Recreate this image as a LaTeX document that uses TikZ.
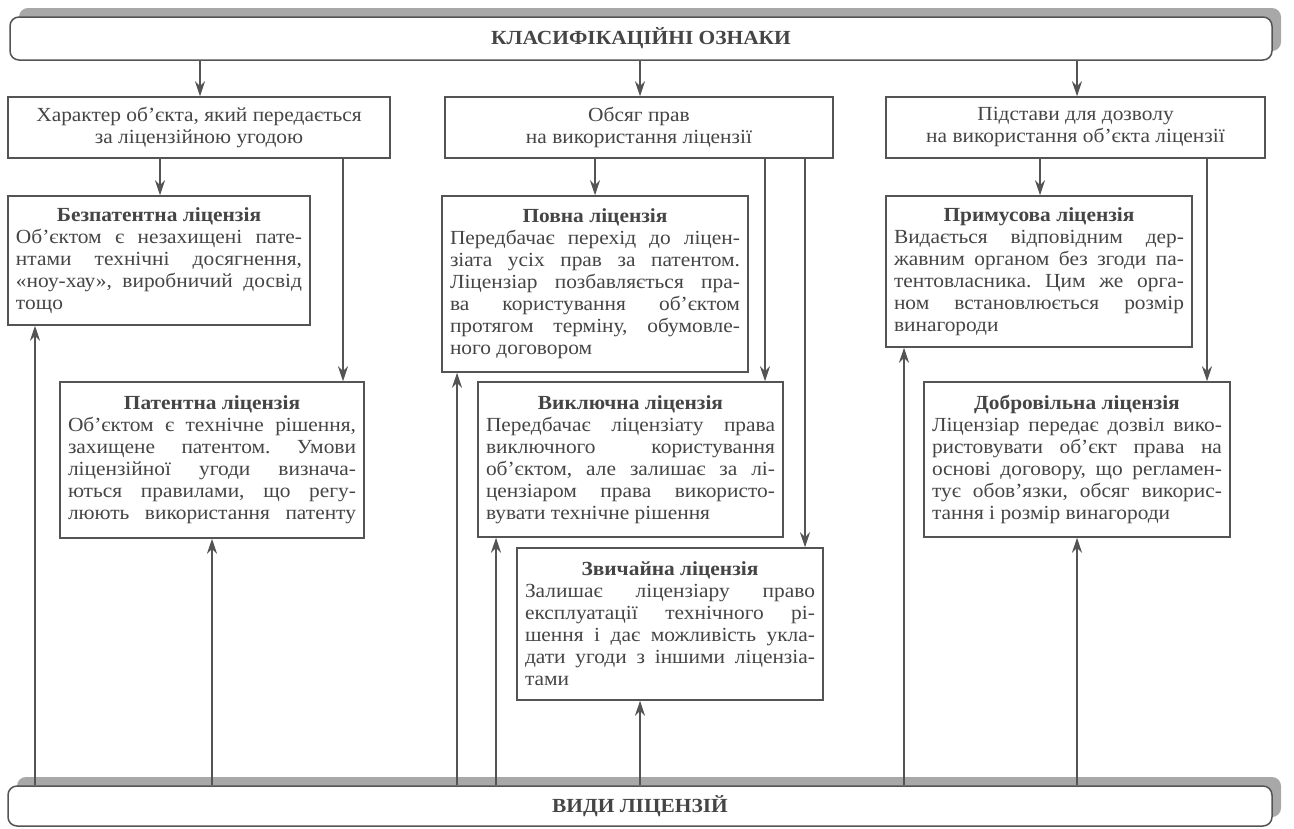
\documentclass[tikz,border=0pt]{standalone}
\usepackage{fontspec}
\setmainfont[FakeStretch=1.07]{Liberation Serif}
\usetikzlibrary{arrows.meta,shadows}
\definecolor{ink}{gray}{0.27}
\definecolor{rule}{gray}{0.33}
\definecolor{shade}{gray}{0.66}
\frenchspacing
% one justified line, a last (ragged) line and a centred bold title line
\newcommand\jline[1]{\hbox to\hsize{\spaceskip=.25em plus 3em minus .06em\relax#1}}
\newcommand\lastline[1]{\hbox to\hsize{#1\hfil}}
\newcommand\ttline[1]{\hbox to\hsize{\hfil\bfseries#1\hfil}}
\begin{document}
\begin{tikzpicture}[x=1pt,y=-1pt,
  every node/.style={font=\fontsize{20}{22}\selectfont, text=ink},
  frame/.style={draw=rule, line width=1.5pt, rectangle, inner ysep=0pt, inner xsep=8pt},
  bar/.style={frame, rounded corners=9pt, fill=white,
    drop shadow={shadow xshift=9pt, shadow yshift=9pt, fill=shade, opacity=1}},
  arr/.style={draw=rule, line width=1.3pt, -{Stealth[length=15pt,width=10pt,inset=5pt]}}]

\fill[white] (0,0) rectangle (1294,828);

% top and bottom bars
\node[bar, minimum width=1262pt, minimum height=43pt] (cls) at (641,38.5)
  {\bfseries КЛАСИФІКАЦІЙНІ ОЗНАКИ};
\node[bar, minimum width=1264pt, minimum height=40pt] (kinds) at (640,806)
  {\bfseries ВИДИ ЛІЦЕНЗІЙ};

% classification features
\node[frame, minimum width=382pt, minimum height=61pt, align=center] (h1) at (199,127.5)
  {Характер об’єкта, який передається\\за ліцензійною угодою};
\node[frame, minimum width=388pt, minimum height=61pt, align=center] (h2) at (639,127.5)
  {Обсяг прав\\на використання ліцензії};
\node[frame, minimum width=379pt, minimum height=61pt, align=center] (h3) at (1075.5,127.5)
  {Підстави для дозволу\\на використання об’єкта ліцензії};

% kinds of licences
\node[frame, minimum height=129pt] (bez) at (159,260.5) {\parbox{286pt}{%
  \ttline{Безпатентна ліцензія}
  \jline{Об’єктом є незахищені пате-}
  \jline{нтами технічні досягнення,}
  \jline{«ноу-хау», виробничий досвід}
  \lastline{тощо}}};
\node[frame, minimum height=156pt] (pat) at (212,460) {\parbox{288pt}{%
  \ttline{Патентна ліцензія}
  \jline{Об’єктом є технічне рішення,}
  \jline{захищене патентом. Умови}
  \jline{ліцензійної угоди визнача-}
  \jline{ються правилами, що регу-}
  \jline{люють використання патенту}}};
\node[frame, minimum height=176pt] (pov) at (595,284) {\parbox{290pt}{%
  \ttline{Повна ліцензія}
  \jline{Передбачає перехід до ліцен-}
  \jline{зіата усіх прав за патентом.}
  \jline{Ліцензіар позбавляється пра-}
  \jline{ва користування об’єктом}
  \jline{протягом терміну, обумовле-}
  \lastline{ного договором}}};
\node[frame, minimum height=155pt] (vyk) at (630.5,459.5) {\parbox{289pt}{%
  \ttline{Виключна ліцензія}
  \jline{Передбачає ліцензіату права}
  \jline{виключного користування}
  \jline{об’єктом, але залишає за лі-}
  \jline{цензіаром права використо-}
  \lastline{вувати технічне рішення}}};
\node[frame, minimum height=152pt] (zvy) at (670,624) {\parbox{290pt}{%
  \ttline{Звичайна ліцензія}
  \jline{Залишає ліцензіару право}
  \jline{експлуатації технічного рі-}
  \jline{шення і дає можливість укла-}
  \jline{дати угоди з іншими ліцензіа-}
  \lastline{тами}}};
\node[frame, minimum height=151pt] (pry) at (1039,271.5) {\parbox{290pt}{%
  \ttline{Примусова ліцензія}
  \jline{Видається відповідним дер-}
  \jline{жавним органом без згоди па-}
  \jline{тентовласника. Цим же орга-}
  \jline{ном встановлюється розмір}
  \lastline{винагороди}}};
\node[frame, minimum height=155pt] (dob) at (1077,459.5) {\parbox{290pt}{%
  \ttline{Добровільна ліцензія}
  \jline{Ліцензіар передає дозвіл вико-}
  \jline{ристовувати об’єкт права на}
  \jline{основі договору, що регламен-}
  \jline{тує обов’язки, обсяг викорис-}
  \lastline{тання і розмір винагороди}}};

% from the classification bar to each feature
\draw[arr] (200,0 |- cls.south) -- (200,0 |- h1.north);
\draw[arr] (640,0 |- cls.south) -- (640,0 |- h2.north);
\draw[arr] (1077,0 |- cls.south) -- (1077,0 |- h3.north);

% from each feature to its kinds
\draw[arr] (160,0 |- h1.south) -- (160,0 |- bez.north);
\draw[arr] (343,0 |- h1.south) -- (343,0 |- pat.north);
\draw[arr] (595,0 |- h2.south) -- (595,0 |- pov.north);
\draw[arr] (765,0 |- h2.south) -- (765,0 |- vyk.north);
\draw[arr] (805,0 |- h2.south) -- (805,0 |- zvy.north);
\draw[arr] (1040,0 |- h3.south) -- (1040,0 |- pry.north);
\draw[arr] (1207,0 |- h3.south) -- (1207,0 |- dob.north);

% from the bar of kinds up to each kind
\draw[arr] (35,0 |- kinds.north) -- (35,0 |- bez.south);
\draw[arr] (212,0 |- kinds.north) -- (212,0 |- pat.south);
\draw[arr] (457,0 |- kinds.north) -- (457,0 |- pov.south);
\draw[arr] (496,0 |- kinds.north) -- (496,0 |- vyk.south);
\draw[arr] (640,0 |- kinds.north) -- (640,0 |- zvy.south);
\draw[arr] (904,0 |- kinds.north) -- (904,0 |- pry.south);
\draw[arr] (1077,0 |- kinds.north) -- (1077,0 |- dob.south);
\end{tikzpicture}
\end{document}
